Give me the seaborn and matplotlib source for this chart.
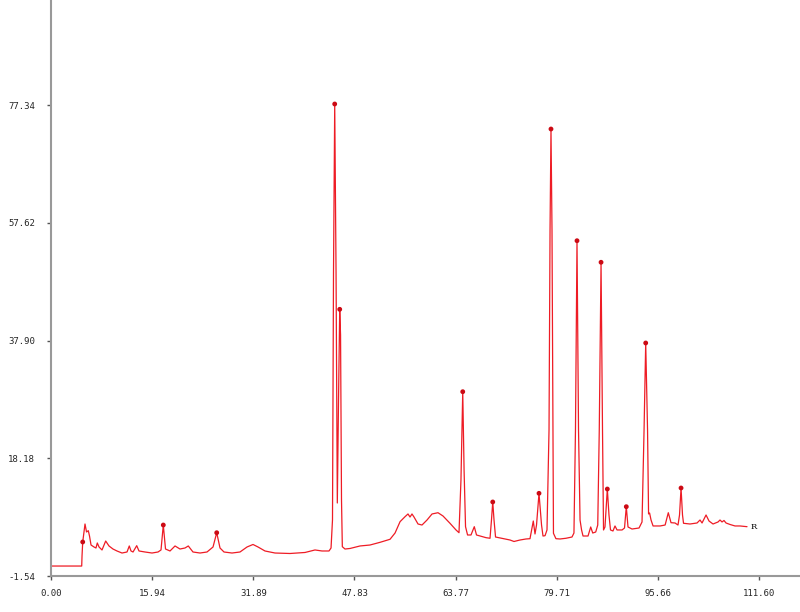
import matplotlib
matplotlib.use("Agg")
import matplotlib.pyplot as plt
import numpy as np
import seaborn as sns

# retention time (min) and detector signal
times = [0.00, 4.84, 4.89, 5.00, 5.36, 5.60, 5.88, 6.07, 6.31, 6.78, 7.09, 7.30, 7.57, 8.04,
         8.62, 9.14, 9.77, 10.40, 11.19, 11.98, 12.34, 12.61, 12.93, 13.51, 13.87, 14.82,
         15.92, 16.87, 17.34, 17.70, 18.05, 18.76, 19.55, 20.33, 21.12, 21.64, 22.38, 23.49,
         24.59, 25.54, 26.12, 26.64, 27.27, 28.53, 29.79, 30.90, 31.84, 32.63, 33.73, 35.31,
         37.67, 40.04, 41.61, 42.72, 43.82, 44.14, 44.37, 44.53, 44.72, 44.93, 45.13, 45.32,
         45.51, 45.64, 45.79, 45.92, 46.34, 47.13, 48.71, 50.28, 51.86, 53.44, 54.23, 55.02,
         55.80, 56.27, 56.59, 56.90, 57.22, 57.85, 58.48, 59.27, 60.06, 61.00, 61.79, 62.89,
         63.84, 64.31, 64.62, 64.90, 65.11, 65.34, 65.66, 66.20, 66.72, 67.07, 67.62, 68.57,
         69.20, 69.43, 69.63, 69.83, 70.07, 70.78, 71.56, 72.35, 72.98, 73.93, 74.87, 75.50,
         76.02, 76.29, 76.53, 76.92, 77.32, 77.55, 77.87, 78.18, 78.50, 78.66, 78.81, 78.97,
         79.13, 79.20, 79.59, 80.23, 81.17, 82.12, 82.43, 82.67, 82.91, 83.15, 83.39, 83.63,
         83.86, 84.65, 85.07, 85.39, 85.86, 86.18, 86.42, 86.70, 86.93, 87.09, 87.32, 87.69,
         87.95, 88.19, 88.58, 88.90, 89.22, 90.01, 90.40, 90.68, 90.95, 91.58, 92.69, 93.16,
         93.48, 93.74, 94.03, 94.19, 94.35, 94.58, 94.90, 96.01, 96.80, 97.30, 97.73, 98.36,
         98.83, 99.07, 99.31, 99.54, 99.70, 100.72, 101.83, 102.30, 102.62, 103.25, 103.72,
         104.35, 105.14, 105.45, 105.77, 106.08, 106.40, 107.03, 107.82, 108.61, 109.71]
signal = [0.13, 0.13, 1.81, 4.16, 7.17, 5.83, 6.05, 5.16, 3.65, 3.32, 3.15, 3.99, 3.32, 2.82,
          4.32, 3.49, 2.98, 2.65, 2.31, 2.48, 3.49, 2.65, 2.48, 3.54, 2.65, 2.48,
          2.31, 2.48, 2.82, 7.00, 2.98, 2.65, 3.49, 2.98, 3.15, 3.49, 2.48, 2.31,
          2.48, 3.32, 5.71, 3.15, 2.48, 2.31, 2.48, 3.32, 3.74, 3.32, 2.65, 2.31,
          2.23, 2.40, 2.82, 2.65, 2.65, 3.15, 7.84, 49.38, 77.52, 49.38, 10.69, 27.94,
          43.13, 38.83, 11.19, 3.37, 2.98, 3.07, 3.49, 3.65, 4.10, 4.61, 5.66, 7.56,
          8.39, 8.85, 8.34, 8.85, 8.34, 7.17, 7.00, 7.84, 8.85, 9.06, 8.51, 7.29,
          6.17, 5.71, 14.54, 29.33, 16.22, 6.72, 5.33, 5.33, 6.72, 5.33, 5.16, 4.88,
          4.78, 7.84, 10.86, 7.84, 4.99, 4.83, 4.66, 4.49, 4.24, 4.49, 4.66, 4.71,
          7.67, 5.50, 7.00, 12.31, 7.00, 5.16, 5.21, 6.17, 22.92, 56.42, 73.33, 56.42,
          22.92, 5.61, 4.71, 4.66, 4.78, 4.99, 5.66, 22.92, 54.62, 22.92, 7.84, 6.17,
          5.16, 5.16, 6.67, 5.66, 5.83, 7.00, 22.92, 51.01, 22.92, 6.17, 6.67, 13.03,
          8.68, 6.17, 6.00, 6.84, 6.17, 6.17, 6.50, 10.07, 6.67, 6.33, 6.50, 7.51,
          22.92, 37.49, 22.92, 8.85, 9.01, 7.84, 6.84, 6.84, 7.00, 9.06, 7.39, 7.34,
          7.00, 8.68, 13.20, 8.68, 7.29, 7.17, 7.34, 7.84, 7.34, 8.68, 7.67,
          7.17, 7.51, 7.84, 7.51, 7.76, 7.34, 7.09, 6.84, 6.84, 6.72]

# detected peaks (apex markers)
peak_times = [5.00, 17.70, 26.12, 44.72, 45.51, 64.90, 69.63, 76.92, 78.81, 82.91,
              86.70, 87.69, 90.68, 93.74, 99.31]
peak_heights = [4.16, 7.00, 5.71, 77.52, 43.13, 29.33, 10.86, 12.31, 73.33, 54.62,
                51.01, 13.03, 10.07, 37.49, 13.20]

x_ticks = [0.00, 15.94, 31.89, 47.83, 63.77, 79.71, 95.66, 111.60]
y_ticks = [-1.54, 18.18, 37.90, 57.62, 77.34]

sns.set_style("ticks")
fig = plt.figure(figsize=(8, 6.12), dpi=100)
ax = fig.add_axes([51 / 800, 36 / 612, 749 / 800, 576 / 612])

sns.lineplot(x=times, y=signal, estimator=None, sort=False, color="#ee1c25",
             linewidth=0.9, ax=ax)
sns.scatterplot(x=peak_times, y=peak_heights, color="#cc0a14", s=12,
                edgecolor="none", ax=ax, zorder=3)
ax.text(times[-1] + 0.5, signal[-1], "R", fontsize=6, family="DejaVu Serif",
        va="center", ha="left", color="black")

ax.set_xlim(0, 118.06)
ax.set_ylim(-1.54, 94.94)
ax.set_xticks(x_ticks)
ax.set_xticklabels(["%.2f" % t for t in x_ticks])
ax.set_yticks(y_ticks)
ax.set_yticklabels(["%.2f" % t for t in y_ticks])
ax.tick_params(axis="x", length=3, width=1, color="#555555", pad=6.5,
               labelsize=6.5, labelfontfamily="DejaVu Sans Mono")
ax.tick_params(axis="y", length=3, width=1, color="#555555", pad=8.5,
               labelsize=6.5, labelfontfamily="DejaVu Sans Mono")
for side in ["top", "right"]:
    ax.spines[side].set_visible(False)
for side in ["left", "bottom"]:
    ax.spines[side].set_color("#999999")
    ax.spines[side].set_linewidth(1.5)
ax.set_xlabel("")
ax.set_ylabel("")

fig.savefig("out.png", dpi=100)
